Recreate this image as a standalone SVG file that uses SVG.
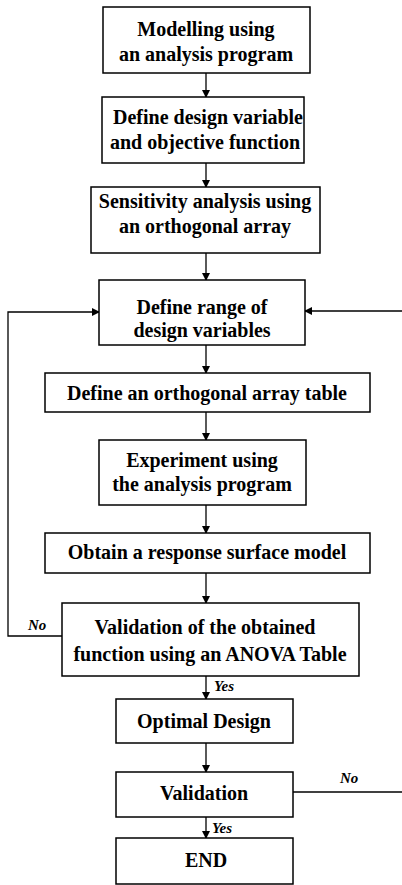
<svg xmlns="http://www.w3.org/2000/svg" width="402" height="885" viewBox="0 0 402 885">
<style>
.box{fill:#fff;stroke:#000;stroke-width:1.5}
.t{font-family:"Liberation Serif","Times New Roman",serif;font-weight:bold;font-size:20px;text-anchor:middle;fill:#000}
.lbl{font-family:"Liberation Serif","Times New Roman",serif;font-weight:bold;font-style:italic;font-size:15px;fill:#000}
.ln{fill:none;stroke:#000;stroke-width:1.3}
</style>
<defs>
<marker id="ah" markerWidth="8" markerHeight="8" refX="7" refY="4" orient="auto" markerUnits="userSpaceOnUse">
<path d="M0,0 L8,4 L0,8 Z" fill="#000"/>
</marker>
</defs>
<rect width="402" height="885" fill="#fff"/>
<g id="connectors">
<line class="ln" x1="206" y1="73" x2="206" y2="97" marker-end="url(#ah)"/>
<line class="ln" x1="206" y1="163" x2="206" y2="187" marker-end="url(#ah)"/>
<line class="ln" x1="206" y1="253" x2="206" y2="280" marker-end="url(#ah)"/>
<line class="ln" x1="206" y1="345" x2="206" y2="373" marker-end="url(#ah)"/>
<line class="ln" x1="206" y1="412" x2="206" y2="440" marker-end="url(#ah)"/>
<line class="ln" x1="206" y1="505" x2="206" y2="533" marker-end="url(#ah)"/>
<line class="ln" x1="206" y1="573" x2="206" y2="603" marker-end="url(#ah)"/>
<line class="ln" x1="206" y1="676" x2="206" y2="699" marker-end="url(#ah)"/>
<line class="ln" x1="206" y1="743" x2="206" y2="772" marker-end="url(#ah)"/>
<line class="ln" x1="206" y1="817" x2="206" y2="838" marker-end="url(#ah)"/>
<polyline class="ln" points="62,636 8,636 8,312 99,312" marker-end="url(#ah)"/>
<polyline class="ln" points="293,792 402,792"/>
<line class="ln" x1="402" y1="311" x2="305" y2="311" marker-end="url(#ah)"/>
<text class="lbl" x="28" y="630">No</text>
<text class="lbl" x="214" y="691">Yes</text>
<text class="lbl" x="340" y="783">No</text>
<text class="lbl" x="212" y="833">Yes</text>
</g>
<g id="n1"><rect class="box" x="103" y="7" width="207" height="66"/><text class="t" x="206" y="36">Modelling using</text><text class="t" x="206" y="61">an analysis program</text></g>
<g id="n2"><rect class="box" x="102" y="97" width="202" height="66"/><text class="t" x="208" y="124">Define design variable</text><text class="t" x="205" y="149">and objective function</text></g>
<g id="n3"><rect class="box" x="91" y="187" width="229" height="66"/><text class="t" x="205" y="208">Sensitivity analysis using</text><text class="t" x="205" y="233">an orthogonal array</text></g>
<g id="n4"><rect class="box" x="99" y="280" width="206" height="65"/><text class="t" x="202" y="314">Define range of</text><text class="t" x="202" y="337">design variables</text></g>
<g id="n5"><rect class="box" x="45" y="373" width="325" height="39"/><text class="t" x="207" y="400">Define an orthogonal array table</text></g>
<g id="n6"><rect class="box" x="99" y="440" width="207" height="65"/><text class="t" x="202" y="467">Experiment using</text><text class="t" x="202" y="491">the analysis program</text></g>
<g id="n7"><rect class="box" x="45" y="533" width="325" height="40"/><text class="t" x="207" y="559">Obtain a response surface model</text></g>
<g id="n8"><rect class="box" x="62" y="603" width="297" height="73"/><text class="t" x="205" y="634">Validation of the obtained</text><text class="t" x="210" y="661">function using an ANOVA Table</text></g>
<g id="n9"><rect class="box" x="116" y="699" width="177" height="44"/><text class="t" x="204" y="728">Optimal Design</text></g>
<g id="n10"><rect class="box" x="116" y="772" width="177" height="45"/><text class="t" x="204" y="800">Validation</text></g>
<g id="n11"><rect class="box" x="116" y="838" width="177" height="46"/><text class="t" x="206" y="867">END</text></g>
</svg>
